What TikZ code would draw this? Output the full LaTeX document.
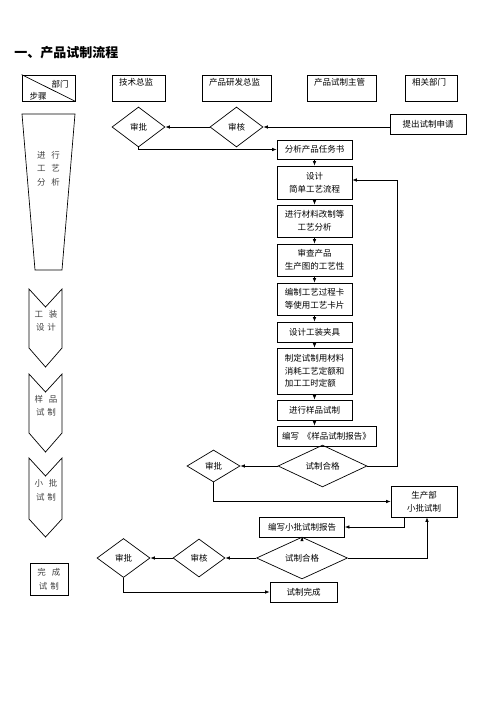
\documentclass[tikz,border=0pt]{standalone}
\usepackage{fontspec}
\setmainfont{Noto Sans CJK SC}
\usetikzlibrary{shapes.geometric,arrows.meta}

\begin{document}
\begin{tikzpicture}[x=1pt, y=-1pt,
    line width=0.7pt,
    head/.style={draw, minimum height=26pt, inner sep=0pt},
    hdtxt/.style={anchor=north west, inner xsep=7pt, inner ysep=3.5pt, font=\fontsize{8.5}{10}\selectfont},
    lbl/.style={inner sep=0pt, font=\fontsize{8.5}{10}\selectfont},
    stagetxt/.style={inner sep=0pt, align=center, text=black!75, font=\fontsize{8.5}{13.5}\selectfont},
    stepbox/.style={draw, inner sep=1pt, align=center, minimum width=75pt, font=\fontsize{8.5}{13}\selectfont},
    dec/.style={draw, diamond, inner sep=0pt, font=\fontsize{8.5}{10}\selectfont},
    arr/.style={-{Latex[length=4.5pt,width=3.5pt]}}
]
    % --- 页面大小 ---
    \useasboundingbox (0,0) rectangle (496,702);
    \def\colx{314.5}     % 产品试制主管一列的中心
    \def\fbx{397}        % 返回线的位置

    % --- 标题 ---
    \node[anchor=west, inner sep=0pt, font=\bfseries\fontsize{13}{13}\selectfont] (title) at (14,53) {一、产品试制流程};

    % --- 表头 ---
    \node[head, minimum width=53pt] (corner) at (48.5,88) {};
    \draw (corner.north west) -- (corner.south east);
    \node[lbl] (dept) at (60,84) {部门};
    \node[lbl] (step) at (38,96) {步骤};

    \node[head, minimum width=53pt] (chief) at (138.5,88) {};
    \node[hdtxt] (chieft) at (chief.north west) {技术总监};
    \node[head, minimum width=69pt] (rnd) at (236.5,88) {};
    \node[hdtxt] (rndt) at (rnd.north west) {产品研发总监};
    \node[head, minimum width=69pt] (trial) at (341.5,88) {};
    \node[hdtxt] (trialt) at (trial.north west) {产品试制主管};
    \node[head, minimum width=52pt] (other) at (431,88) {};
    \node[hdtxt] (othert) at (other.north west) {相关部门};

    % --- 左侧步骤 ---
    \draw (22,114) -- (75,114) -- (62,270) -- (35,270) -- cycle;
    \node[stagetxt] (stage1) at (48.5,168.5) {进\hspace{6pt}行\\工\hspace{6pt}艺\\分\hspace{6pt}析};

    \draw (29,289) -- (45.5,307) -- (62,289) -- (62,348) -- (45.5,367) -- (29,348) -- cycle;
    \node[stagetxt] (stage2) at (46,321) {工\hspace{6pt}装\\设\hspace{3pt}计};

    \draw (29,374) -- (45.5,392) -- (62,374) -- (62,433) -- (45.5,452) -- (29,433) -- cycle;
    \node[stagetxt] (stage3) at (46,405.5) {样\hspace{6pt}品\\试\hspace{3pt}制};

    \draw (29,458) -- (45.5,476) -- (62,458) -- (62,519) -- (45.5,537) -- (29,519) -- cycle;
    \node[stagetxt] (stage4) at (46,490.5) {小\hspace{6pt}批\\试\hspace{3pt}制};

    \node[draw, minimum width=38pt, minimum height=32pt, inner sep=0pt] (stage5) at (49,579) {};
    \node[stagetxt] at (stage5) {完\hspace{6pt}成\\试\hspace{3pt}制};

    % --- 第一段: 申请与审批 ---
    \node[stepbox, minimum width=76pt, minimum height=20pt] (apply) at (428,124) {提出试制申请};
    \node[dec, minimum width=53pt, minimum height=40pt] (check1) at (236.5,127) {审核};
    \node[dec, minimum width=53pt, minimum height=40pt] (ok1) at (138.5,127) {审批};
    \draw[arr] (apply.west |- check1.east) -- (check1.east);
    \draw[arr] (check1.west) -- (ok1.east);

    % --- 工艺步骤 (一列方框) ---
    \node[stepbox, minimum height=19pt] (t1) at (\colx,149.5) {分析产品任务书};
    \node[stepbox, minimum height=33pt] (t2) at (\colx,182.5) {设计\\简单工艺流程};
    \node[stepbox, minimum height=32pt] (t3) at (\colx,221) {进行材料改制等\\工艺分析};
    \node[stepbox, minimum height=32pt] (t4) at (\colx,260) {审查产品\\生产图的工艺性};
    \node[stepbox, minimum height=32pt] (t5) at (\colx,299) {编制工艺过程卡\\等使用工艺卡片};
    \node[stepbox, minimum height=20pt] (t6) at (\colx,332) {设计工装夹具};
    \node[stepbox, minimum height=46pt, align=left, font=\fontsize{8.5}{12.5}\selectfont] (t7) at (\colx,371) {制定试制用材料\\消耗工艺定额和\\加工工时定额};
    \node[stepbox, minimum height=20pt] (t8) at (\colx,410) {进行样品试制};
    \node[stepbox, minimum width=99pt, minimum height=20pt, align=left] (t9) at (326.5,436) {编写\hspace{4pt}《样品试制报告》};

    \draw[arr] (ok1.south) |- (t1.west);
    \foreach \a/\b in {t1/t2, t2/t3, t3/t4, t4/t5, t5/t6, t6/t7, t7/t8} {
        \draw[arr] (\a.south) -- (\b.north);
    }
    \draw[arr] (t8.south) -- (t8.south |- t9.north);

    % --- 样品试制合格判断 ---
    \node[dec, minimum width=89pt, minimum height=26pt] (pass1) at (322.5,466) {试制合格};
    \node[dec, minimum width=53pt, minimum height=32pt] (ok2) at (213.5,466) {审批};
    \coordinate (back) at (\fbx,180);
    \draw[arr] (pass1.east) -| (back) -- (back -| t2.east);
    \draw[arr] (pass1.west) -- (ok2.east);

    % --- 小批试制 ---
    \node[stepbox, minimum width=66pt, minimum height=31pt] (prod) at (424,501.5) {生产部\\小批试制};
    \node[stepbox, minimum width=85pt, minimum height=20pt] (rep2) at (302,527) {编写小批试制报告};
    \node[dec, minimum width=91pt, minimum height=32pt] (pass2) at (302,558) {试制合格};
    \node[dec, minimum width=52pt, minimum height=38pt] (check3) at (199,558) {审核};
    \node[dec, minimum width=53pt, minimum height=39pt] (ok3) at (123.5,558) {审批};
    \node[stepbox, minimum width=67pt, minimum height=20pt] (done) at (303.5,592) {试制完成};

    \draw[arr] (ok2.south) |- (prod.west);
    \draw[arr] ([xshift=14pt]prod.south west) |- (rep2.east);
    \draw[arr] (rep2.south) -- (pass2.north);
    \draw[arr] (pass2.east) -| ([xshift=3pt]prod.south);
    \draw[arr] (pass2.west) -- (check3.east);
    \draw[arr] (check3.west) -- (ok3.east);
    \draw[arr] (ok3.south) |- (done.west);

\end{tikzpicture}
\end{document}
